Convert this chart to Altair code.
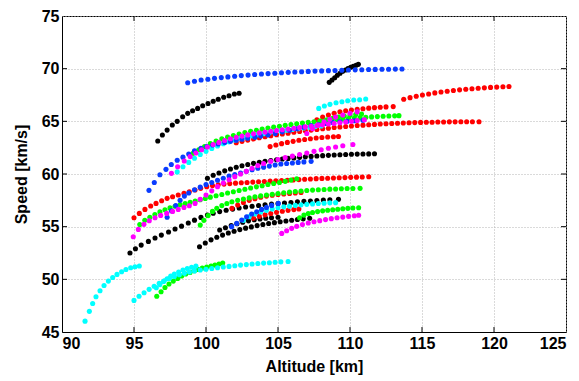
import altair as alt
import pandas as pd

X_TICKS = [90, 95, 100, 105, 110, 115, 120, 125]
Y_TICKS = [45, 50, 55, 60, 65, 70, 75]

COLORS = {"black": "#000000", "blue": "#0A3CFF", "red": "#FF0000",
          "green": "#00FF00", "cyan": "#00FFFF", "magenta": "#FF00FF"}

# ---- black series
K1_ALT = [96.65, 96.97, 97.3, 97.66, 98.0, 98.38, 98.73, 99.07, 99.42, 99.77, 100.14, 100.5, 100.85, 101.23, 101.6, 101.97, 102.3]
K1_SPD = [63.13, 63.7, 64.17, 64.65, 65.0, 65.44, 65.76, 66.0, 66.23, 66.48, 66.7, 66.9, 67.09, 67.28, 67.43, 67.6, 67.66]
K2_ALT = [108.56, 108.75, 108.94, 109.12, 109.31, 109.49, 109.68, 109.86, 110.05, 110.23, 110.42, 110.58]
K2_SPD = [68.70, 68.92, 69.14, 69.37, 69.56, 69.75, 69.87, 70.0, 70.13, 70.22, 70.32, 70.41]
K3_ALT = [100.1, 100.5, 100.9, 101.3, 101.7, 102.1, 102.5, 102.9, 103.3, 103.7, 104.1, 104.5, 104.9, 105.3, 105.7, 106.1, 106.5, 106.9, 107.3, 107.7, 108.1, 108.5, 108.9, 109.3, 109.7, 110.1, 110.5, 110.9, 111.3, 111.7]
K3_SPD = [59.6, 59.88, 60.1, 60.3, 60.48, 60.64, 60.78, 60.9, 61.01, 61.11, 61.2, 61.28, 61.35, 61.42, 61.48, 61.53, 61.58, 61.63, 61.67, 61.71, 61.74, 61.77, 61.8, 61.83, 61.85, 61.87, 61.89, 61.9, 61.91, 61.92]
K4_ALT = [94.72, 95.1, 95.5, 96.0, 96.46, 96.9, 97.4, 97.85, 98.3, 98.77, 99.2, 99.65, 100.1, 100.5, 100.95, 101.4, 101.85, 102.3, 102.75, 103.2, 103.65, 104.1, 104.55, 105.0, 105.45, 105.9, 106.35, 106.8, 107.25, 107.7, 108.15, 108.6, 109.2]
K4_SPD = [52.5, 52.9, 53.25, 53.6, 53.93, 54.2, 54.5, 54.78, 55.05, 55.35, 55.62, 55.88, 56.1, 56.28, 56.43, 56.56, 56.67, 56.77, 56.86, 56.94, 57.01, 57.08, 57.14, 57.2, 57.25, 57.3, 57.35, 57.4, 57.44, 57.48, 57.52, 57.56, 57.6]
K5_ALT = [99.55, 99.95, 100.35, 100.75, 101.15, 101.55, 101.95, 102.35, 102.75, 103.15, 103.55, 103.95, 104.35, 104.75, 105.15, 105.55, 105.95, 106.35, 106.75, 107.2]
K5_SPD = [53.1, 53.45, 53.75, 54.0, 54.2, 54.4, 54.57, 54.72, 54.86, 54.98, 55.1, 55.2, 55.3, 55.38, 55.46, 55.54, 55.61, 55.68, 55.74, 55.8]
K6_ALT = [100.95, 101.35, 101.75, 102.15, 102.55, 102.95, 103.35, 103.75, 104.15, 104.55, 105.0]
K6_SPD = [54.68, 54.9, 55.1, 55.27, 55.42, 55.55, 55.65, 55.73, 55.8, 55.85, 55.9]

# ---- blue series
B1_ALT = [98.73, 99.2, 99.66, 100.13, 100.59, 101.06, 101.52, 101.99, 102.45, 102.92, 103.38, 103.85, 104.31, 104.78, 105.24, 105.71, 106.17, 106.64, 107.1, 107.57, 108.03, 108.5, 108.96, 109.43, 109.89, 110.36, 110.82, 111.29, 111.75, 112.22, 112.68, 113.15, 113.61]
B1_SPD = [68.67, 68.8, 68.92, 69.0, 69.08, 69.15, 69.22, 69.28, 69.34, 69.39, 69.44, 69.49, 69.53, 69.57, 69.61, 69.65, 69.68, 69.71, 69.74, 69.77, 69.79, 69.81, 69.83, 69.85, 69.87, 69.89, 69.9, 69.92, 69.93, 69.94, 69.95, 69.96, 69.97]
B2_ALT = [96.04, 96.41, 96.8, 97.22, 97.59, 98.0, 98.4, 98.8, 99.2, 99.65, 100.05, 100.46, 100.85, 101.3, 101.7, 102.1, 102.5, 102.9, 103.4, 103.8, 104.3, 104.8, 105.3, 105.8, 106.3, 106.8, 107.3, 107.8, 108.3, 108.8, 109.3, 109.8, 110.3, 110.9]
B2_SPD = [58.45, 59.2, 59.93, 60.44, 60.9, 61.3, 61.6, 61.9, 62.2, 62.43, 62.6, 62.75, 62.85, 63.0, 63.1, 63.2, 63.3, 63.4, 63.5, 63.6, 63.7, 63.85, 64.0, 64.15, 64.3, 64.45, 64.6, 64.7, 64.8, 64.88, 64.95, 65.0, 65.05, 65.1]
B3_ALT = [97.3, 97.6, 97.9, 98.2, 98.5, 98.8, 99.2, 99.6, 100.0, 100.4, 100.8, 101.2, 101.6, 102.0, 102.4, 102.8, 103.2, 103.6, 104.0, 104.4, 104.8, 105.2, 105.6, 106.0, 106.4, 106.8, 107.3]
B3_SPD = [55.9, 56.5, 57.0, 57.5, 57.9, 58.2, 58.5, 58.75, 59.0, 59.2, 59.4, 59.6, 59.8, 59.95, 60.1, 60.25, 60.4, 60.55, 60.65, 60.75, 60.85, 60.95, 61.0, 61.05, 61.1, 61.15, 61.2]
B4_ALT = [101.78, 102.13, 102.48, 102.82, 103.17, 103.52, 103.86, 104.2, 104.56, 105.02]
B4_SPD = [55.0, 55.31, 55.63, 55.94, 56.2, 56.42, 56.64, 56.83, 57.02, 57.21]

# ---- red series
R1_ALT = [113.73, 114.17, 114.6, 115.03, 115.46, 115.89, 116.32, 116.75, 117.18, 117.61, 118.04, 118.47, 118.9, 119.33, 119.76, 120.19, 120.62, 121.04]
R1_SPD = [67.1, 67.25, 67.38, 67.5, 67.6, 67.7, 67.78, 67.86, 67.93, 67.99, 68.04, 68.09, 68.14, 68.18, 68.22, 68.25, 68.28, 68.31]
RA_ALT = [107.7, 108.1, 108.5, 108.9, 109.3, 109.7, 110.1, 110.5, 110.9, 111.3, 111.7, 112.1, 112.5, 113.0]
RA_SPD = [65.15, 65.4, 65.6, 65.77, 65.9, 66.0, 66.08, 66.15, 66.2, 66.25, 66.3, 66.34, 66.37, 66.4]
RB_ALT = [102.1, 102.5, 102.9, 103.3, 103.7, 104.1, 104.5, 104.9, 105.3, 105.7, 106.1, 106.5, 106.9, 107.3, 107.7, 108.1, 108.5, 108.9, 109.3, 109.7, 110.1, 110.5, 110.9, 111.3, 111.7, 112.1, 112.5, 112.9, 113.3, 113.7, 114.1, 114.5, 114.9, 115.3, 115.7, 116.1, 116.5, 116.9, 117.3, 117.7, 118.1, 118.5, 118.96]
RB_SPD = [62.97, 63.1, 63.22, 63.33, 63.44, 63.54, 63.63, 63.72, 63.8, 63.88, 63.96, 64.03, 64.1, 64.17, 64.23, 64.29, 64.35, 64.41, 64.46, 64.51, 64.56, 64.6, 64.64, 64.68, 64.71, 64.74, 64.77, 64.8, 64.82, 64.84, 64.86, 64.88, 64.9, 64.91, 64.92, 64.93, 64.94, 64.95, 64.95, 64.96, 64.96, 64.96, 64.96]
RC_ALT = [104.45, 104.85, 105.25, 105.65, 106.05, 106.45, 106.85, 107.25, 107.65, 108.05, 108.45, 108.85, 109.2]
RC_SPD = [62.6, 62.75, 62.88, 63.0, 63.1, 63.2, 63.28, 63.35, 63.42, 63.47, 63.51, 63.54, 63.56]
R2_ALT = [95.0, 95.37, 95.76, 96.16, 96.53, 96.92, 97.3, 97.68, 98.07, 98.47, 98.84, 99.24, 99.63, 100.05, 100.45, 100.85, 101.25, 101.65, 102.05, 102.45, 102.85, 103.25, 103.65, 104.05, 104.45, 104.85, 105.25, 105.65, 106.05, 106.45, 106.85, 107.25, 107.65, 108.05, 108.45, 108.85, 109.25, 109.65, 110.05, 110.45, 110.85, 111.3]
R2_SPD = [55.85, 56.26, 56.64, 56.96, 57.21, 57.46, 57.69, 57.84, 58.0, 58.16, 58.32, 58.48, 58.64, 58.8, 58.9, 58.98, 59.04, 59.09, 59.13, 59.17, 59.2, 59.23, 59.26, 59.29, 59.32, 59.35, 59.38, 59.41, 59.44, 59.47, 59.5, 59.53, 59.56, 59.58, 59.6, 59.62, 59.64, 59.66, 59.68, 59.7, 59.72, 59.74]
R3_ALT = [101.8, 102.2, 102.6, 103.0, 103.4, 103.8, 104.2, 104.6, 105.0, 105.4, 105.8, 106.2, 106.6]
R3_SPD = [56.74, 57.05, 57.3, 57.5, 57.66, 57.8, 57.9, 57.98, 58.05, 58.1, 58.15, 58.2, 58.25]
R4_ALT = [103.3, 103.7, 104.1, 104.5, 104.9, 105.3, 105.7, 106.1, 106.45]
R4_SPD = [55.8, 55.98, 56.12, 56.25, 56.36, 56.46, 56.55, 56.62, 56.68]

# ---- green series
G1_ALT = [99.1, 99.5, 99.9, 100.3, 100.7, 101.1, 101.5, 101.9, 102.3, 102.7, 103.1, 103.5, 103.9, 104.3, 104.7, 105.1, 105.5, 105.9, 106.3, 106.7, 107.1, 107.5, 107.9, 108.3, 108.7, 109.1, 109.5, 109.9, 110.3, 110.7, 111.1, 111.5, 111.9, 112.3, 112.7, 113.1, 113.4]
G1_SPD = [61.96, 62.3, 62.6, 62.88, 63.12, 63.33, 63.5, 63.65, 63.8, 63.93, 64.05, 64.16, 64.26, 64.36, 64.45, 64.54, 64.62, 64.7, 64.77, 64.84, 64.9, 64.96, 65.02, 65.08, 65.13, 65.18, 65.23, 65.27, 65.31, 65.35, 65.39, 65.42, 65.45, 65.48, 65.5, 65.52, 65.54]
G2_ALT = [95.4, 95.75, 96.1, 96.45, 96.8, 97.15, 97.5, 97.85, 98.2, 98.55, 98.9, 99.25, 99.6, 99.95, 100.3, 100.7, 101.1, 101.5, 101.9, 102.3, 102.7, 103.1, 103.5, 103.9, 104.3, 104.7, 105.1, 105.5, 105.9, 106.3]
G2_SPD = [55.2, 55.6, 55.9, 56.15, 56.4, 56.6, 56.78, 56.94, 57.08, 57.2, 57.32, 57.44, 57.56, 57.68, 57.8, 57.93, 58.06, 58.19, 58.31, 58.43, 58.55, 58.67, 58.78, 58.89, 59.0, 59.1, 59.2, 59.3, 59.42, 59.55]
G3_ALT = [99.6, 99.85, 100.15, 100.45, 100.75, 101.1, 101.45, 101.8, 102.2, 102.6, 103.0, 103.4, 103.8, 104.2, 104.6, 105.0, 105.4, 105.8, 106.2, 106.6, 107.0, 107.4, 107.8, 108.2, 108.6, 109.0, 109.4, 109.8, 110.2, 110.7]
G3_SPD = [55.15, 55.6, 56.05, 56.45, 56.75, 57.0, 57.2, 57.36, 57.5, 57.62, 57.73, 57.83, 57.92, 58.0, 58.08, 58.15, 58.22, 58.28, 58.34, 58.39, 58.43, 58.47, 58.5, 58.53, 58.56, 58.58, 58.6, 58.62, 58.63, 58.64]
G4_ALT = [106.5, 106.8, 107.1, 107.4, 107.75, 108.1, 108.45, 108.8, 109.15, 109.5, 109.85, 110.2, 110.6]
G4_SPD = [55.85, 56.1, 56.25, 56.35, 56.43, 56.5, 56.56, 56.61, 56.66, 56.7, 56.74, 56.77, 56.8]
G5_ALT = [96.58, 96.88, 97.15, 97.43, 97.73, 98.03, 98.31, 98.59, 98.89, 99.19, 99.47, 99.74, 100.05, 100.35, 100.62, 100.9, 101.16]
G5_SPD = [48.4, 48.82, 49.23, 49.55, 49.83, 50.09, 50.31, 50.5, 50.66, 50.81, 50.94, 51.07, 51.16, 51.26, 51.35, 51.45, 51.54]
G6_ALT = [108.0, 108.4, 108.8, 109.2, 109.6, 110.0, 110.4, 110.8]
G6_SPD = [65.0, 65.15, 65.28, 65.4, 65.5, 65.58, 65.64, 65.7]

# ---- cyan series
C1_ALT = [91.6, 91.9, 92.13, 92.36, 92.64, 92.92, 93.22, 93.52, 93.82, 94.14, 94.44, 94.77, 95.07, 95.37]
C1_SPD = [46.03, 46.96, 47.7, 48.34, 48.91, 49.42, 49.83, 50.18, 50.47, 50.72, 50.94, 51.1, 51.19, 51.26]
C2_ALT = [95.0, 95.35, 95.7, 96.05, 96.4, 96.75, 97.1, 97.45, 97.8, 98.15, 98.5, 98.85, 99.2, 99.6, 100.0, 100.4, 100.8, 101.2, 101.6, 102.0, 102.4, 102.8, 103.2, 103.6, 104.0, 104.4, 104.8, 105.2, 105.7]
C2_SPD = [48.0, 48.4, 48.72, 49.05, 49.35, 49.62, 49.87, 50.08, 50.27, 50.43, 50.57, 50.7, 50.8, 50.88, 50.96, 51.03, 51.1, 51.17, 51.23, 51.29, 51.35, 51.4, 51.45, 51.5, 51.54, 51.58, 51.62, 51.66, 51.7]
C3_ALT = [96.55, 96.8, 97.05, 97.3, 97.55, 97.8, 98.1, 98.4, 98.7, 99.0, 99.3]
C3_SPD = [49.2, 49.5, 49.8, 50.05, 50.3, 50.5, 50.7, 50.88, 51.02, 51.15, 51.25]
C4_ALT = [107.83, 108.22, 108.61, 109.03, 109.44, 109.84, 110.26, 110.67, 111.09]
C4_SPD = [66.23, 66.45, 66.61, 66.77, 66.86, 66.96, 67.02, 67.05, 67.12]
C5_ALT = [98.0, 98.4, 98.8, 99.2, 99.6, 100.0, 100.4, 100.8, 101.2, 101.6, 102.0, 102.4, 102.8, 103.2, 103.6, 104.0, 104.4, 104.8, 105.2, 105.6, 106.0, 106.4, 106.8, 107.2, 107.6, 108.0]
C5_SPD = [60.2, 60.69, 61.1, 61.5, 61.85, 62.15, 62.42, 62.66, 62.87, 63.05, 63.22, 63.37, 63.5, 63.62, 63.73, 63.83, 63.92, 64.0, 64.08, 64.16, 64.23, 64.3, 64.37, 64.44, 64.5, 64.56]
C6_ALT = [102.6, 103.0, 103.4, 103.8, 104.2, 104.6, 105.0, 105.4, 105.8, 106.2, 106.6, 107.0, 107.4, 107.8, 108.2, 108.6, 109.0]
C6_SPD = [55.6, 55.95, 56.2, 56.4, 56.55, 56.68, 56.8, 56.88, 56.95, 57.02, 57.07, 57.12, 57.16, 57.2, 57.23, 57.26, 57.28]

# ---- magenta series
M1_ALT = [97.6, 98.03, 98.49, 98.9, 99.3, 99.7, 100.1, 100.5, 100.9, 101.3, 101.7, 102.1, 102.5, 102.9, 103.3, 103.7, 104.1, 104.5, 104.9, 105.3, 105.7, 106.1, 106.5, 106.9, 107.3, 107.7, 108.1, 108.5, 108.9, 109.3, 109.7, 110.1, 110.5, 111.0]
M1_SPD = [60.06, 60.69, 61.23, 61.65, 62.0, 62.3, 62.57, 62.8, 63.0, 63.18, 63.34, 63.48, 63.6, 63.71, 63.81, 63.9, 63.98, 64.06, 64.13, 64.2, 64.27, 64.34, 64.4, 64.47, 64.54, 64.6, 64.67, 64.74, 64.8, 64.87, 64.94, 65.0, 65.08, 65.15]
M2_ALT = [94.95, 95.3, 95.69, 96.06, 96.46, 96.85, 97.27, 97.68, 98.07, 98.47, 98.84, 99.24, 99.6, 100.0, 100.4, 100.8, 101.2, 101.6, 102.0, 102.4, 102.8, 103.2, 103.6, 104.0, 104.5, 105.0, 105.5, 106.0, 106.5, 107.0, 107.5, 108.0, 108.5, 109.0, 109.5, 110.2]
M2_SPD = [54.04, 54.74, 55.22, 55.56, 55.85, 56.07, 56.26, 56.45, 56.64, 56.83, 56.99, 57.21, 57.6, 58.0, 58.4, 58.8, 59.15, 59.45, 59.75, 60.0, 60.25, 60.55, 60.8, 61.0, 61.2, 61.38, 61.55, 61.7, 61.85, 62.0, 62.15, 62.3, 62.45, 62.57, 62.68, 62.8]
M3_ALT = [107.0, 107.4, 107.8, 108.2, 108.6, 109.0, 109.5, 110.0, 110.5]
M3_SPD = [63.85, 64.3, 64.65, 64.95, 65.2, 65.4, 65.6, 65.76, 65.9]
M4_ALT = [105.26, 105.6, 105.95, 106.3, 106.7, 107.1, 107.5, 107.9, 108.3, 108.7, 109.1, 109.5, 109.9, 110.3, 110.6]
M4_SPD = [54.36, 54.61, 54.84, 55.03, 55.2, 55.35, 55.47, 55.57, 55.67, 55.76, 55.84, 55.91, 55.98, 56.04, 56.08]

SERIES = [
    ("black", K1_ALT, K1_SPD), ("black", K2_ALT, K2_SPD), ("black", K3_ALT, K3_SPD),
    ("black", K4_ALT, K4_SPD), ("black", K5_ALT, K5_SPD), ("black", K6_ALT, K6_SPD),
    ("red", R1_ALT, R1_SPD), ("red", RA_ALT, RA_SPD), ("red", RB_ALT, RB_SPD),
    ("red", RC_ALT, RC_SPD), ("red", R2_ALT, R2_SPD), ("red", R3_ALT, R3_SPD), ("red", R4_ALT, R4_SPD),
    ("green", G1_ALT, G1_SPD), ("green", G2_ALT, G2_SPD), ("green", G3_ALT, G3_SPD),
    ("green", G4_ALT, G4_SPD), ("green", G5_ALT, G5_SPD), ("green", G6_ALT, G6_SPD),
    ("cyan", C1_ALT, C1_SPD), ("cyan", C2_ALT, C2_SPD), ("cyan", C3_ALT, C3_SPD),
    ("cyan", C4_ALT, C4_SPD), ("cyan", C5_ALT, C5_SPD), ("cyan", C6_ALT, C6_SPD),
    ("blue", B1_ALT, B1_SPD), ("blue", B2_ALT, B2_SPD), ("blue", B3_ALT, B3_SPD), ("blue", B4_ALT, B4_SPD),
    ("magenta", M1_ALT, M1_SPD), ("magenta", M2_ALT, M2_SPD), ("magenta", M3_ALT, M3_SPD), ("magenta", M4_ALT, M4_SPD),
]

rows = []
for color, alts, spds in SERIES:
    for a, s in zip(alts, spds):
        rows.append({"alt": a, "spd": s, "col": COLORS[color]})
df = pd.DataFrame(rows)

W, H = 504, 316
tick_len_x = 5 * 35 / W   # 5 px expressed in x data units
tick_len_y = 5 * 30 / H   # 5 px expressed in y data units

inner_x = X_TICKS[1:-1]
inner_y = Y_TICKS[1:-1]
tick_rows = []
for v in inner_x:
    tick_rows.append({"alt": v, "alt2": v, "spd": 45, "spd2": 45 + tick_len_y})
    tick_rows.append({"alt": v, "alt2": v, "spd": 75 - tick_len_y, "spd2": 75})
for v in inner_y:
    tick_rows.append({"alt": 90, "alt2": 90 + tick_len_x, "spd": v, "spd2": v})
    tick_rows.append({"alt": 125 - tick_len_x, "alt2": 125, "spd": v, "spd2": v})
tick_df = pd.DataFrame(tick_rows)

xs = alt.Scale(domain=[90, 125], nice=False, zero=False)
ys = alt.Scale(domain=[45, 75], nice=False, zero=False)
x_axis = alt.Axis(values=X_TICKS, title="Altitude [km]", format="d",
                  labelPadding=3, titlePadding=7)
y_axis = alt.Axis(values=Y_TICKS, title="Speed [km/s]", format="d",
                  labelPadding=3, titlePadding=12)

points = alt.Chart(df).mark_circle(size=26, opacity=1).encode(
    x=alt.X("alt:Q", scale=xs, axis=x_axis, title="Altitude [km]"),
    y=alt.Y("spd:Q", scale=ys, axis=y_axis, title="Speed [km/s]"),
    color=alt.Color("col:N", scale=None),
)

ticks = alt.Chart(tick_df).mark_rule(color="#000000", strokeWidth=1).encode(
    x=alt.X("alt:Q", scale=xs, axis=x_axis, title="Altitude [km]"), x2="alt2:Q",
    y=alt.Y("spd:Q", scale=ys, axis=y_axis, title="Speed [km/s]"), y2="spd2:Q",
)

chart = alt.layer(points, ticks).properties(
    width=W, height=H,
    autosize=alt.AutoSizeParams(type="none"),
    padding={"left": 62, "top": 16, "right": 13, "bottom": 49},
    background="white",
).configure_view(
    stroke="#000000", strokeWidth=1
).configure_axis(
    labelFont="Liberation Sans", labelFontWeight="bold", labelFontSize=16, labelColor="#000000",
    titleFont="Liberation Sans", titleFontWeight="bold", titleFontSize=16, titleColor="#000000",
    domainColor="#000000", domainWidth=1, ticks=False,
    grid=True, gridColor="#b4b4b4", gridDash=[1, 2], gridWidth=1,
)

chart.save("out.html", embed_options={"renderer": "svg", "actions": False})
